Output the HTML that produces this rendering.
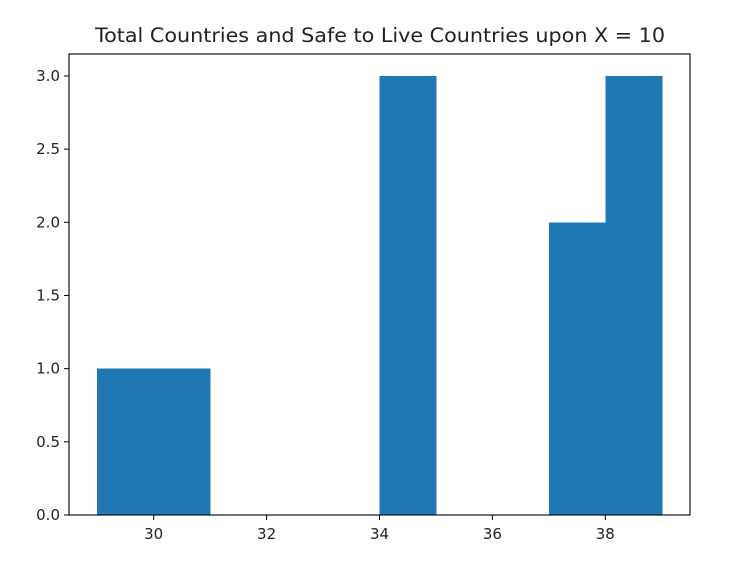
<!DOCTYPE html>
<html><head><meta charset="utf-8"><style>
body{margin:0;background:#fff;}
svg text{font-family:"DejaVu Sans","Liberation Sans",sans-serif;fill:#222;}
</style></head><body>
<svg id="chart" width="749" height="564" xmlns="http://www.w3.org/2000/svg">
<rect width="749" height="564" fill="#fff"/>
<text x="380" y="42" font-size="19.5" text-anchor="middle" textLength="570" lengthAdjust="spacingAndGlyphs">Total Countries and Safe to Live Countries upon X = 10</text>
<g id="bars" shape-rendering="crispEdges"></g>
<g id="axes"></g>
</svg>
<script>
const binEdgesLeft = [29,30,31,32,33,34,35,36,37,38];
const binWidth = 1;
const counts = [1,1,0,0,0,3,0,0,2,3];
const xTicks = [30,32,34,36,38];
const yTicks = [0.0,0.5,1.0,1.5,2.0,2.5,3.0];
const L=69,R=690,T=54,B=515;
const xMin=28.5,xMax=39.5,yMin=0,yMax=3.15;
const sx=v=>L+(v-xMin)/(xMax-xMin)*(R-L);
const sy=v=>B-(v-yMin)/(yMax-yMin)*(B-T);
const NS="http://www.w3.org/2000/svg";
const bars=document.getElementById('bars');
binEdgesLeft.forEach((e,i)=>{
  if(counts[i]<=0) return;
  const r=document.createElementNS(NS,'rect');
  r.setAttribute('x',sx(e));r.setAttribute('width',sx(e+binWidth)-sx(e)+0.5);
  r.setAttribute('y',sy(counts[i]));r.setAttribute('height',sy(0)-sy(counts[i]));
  r.setAttribute('fill','#1f77b4');
  
  
  bars.appendChild(r);
});
const ax=document.getElementById('axes');
let h='';
h+=`<rect x="${L}" y="${T}" width="${R-L}" height="${B-T}" fill="none" stroke="#000" stroke-width="1.1"/>`;
xTicks.forEach(t=>{const x=sx(t);
  h+=`<line x1="${x}" x2="${x}" y1="${B}" y2="${B+5}" stroke="#000"/>`;
  h+=`<text x="${x}" y="${B+24}" font-size="15" text-anchor="middle">${t}</text>`;});
yTicks.forEach(t=>{const y=sy(t);
  h+=`<line x1="${L-5}" x2="${L}" y1="${y}" y2="${y}" stroke="#000"/>`;
  h+=`<text x="${L-9}" y="${y+5}" font-size="15" text-anchor="end">${t.toFixed(1)}</text>`;});
ax.innerHTML=h;
</script>
</body></html>
